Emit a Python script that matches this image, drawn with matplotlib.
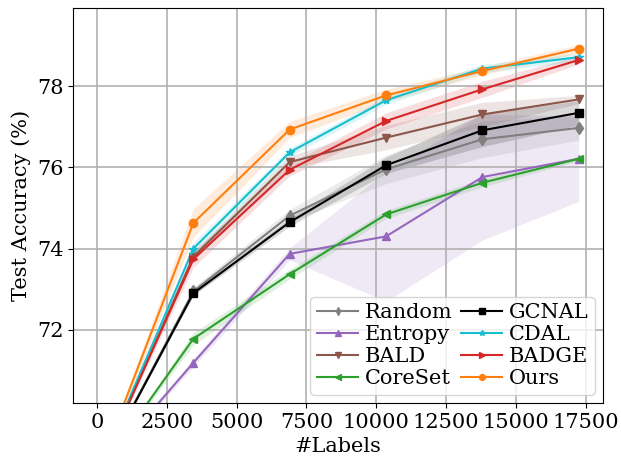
import matplotlib
matplotlib.use("Agg")
import matplotlib.pyplot as plt
import numpy as np

plt.rcParams['font.family'] = 'DejaVu Serif'
plt.rcParams['font.size'] = 15

labels_x = [0, 3450, 6900, 10350, 13800, 17250]

methods = ["Random", "Entropy", "BALD", "CoreSet", "GCNAL", "CDAL", "BADGE", "Ours"]
colors = ["tab:gray", "tab:purple", "tab:brown", "tab:green", "black", "tab:cyan", "tab:red", "tab:orange"]
markers = ["d", "^", "v", "<", "s", "*", ">", "o"]

random_acc = [68.45, 72.95, 74.81, 75.95, 76.69, 76.97]
entropy_acc = [68.45, 71.19, 73.87, 74.30, 75.76, 76.21]
bald_acc = [68.45, 73.80, 76.13, 76.73, 77.30, 77.67]
coreset_acc = [68.45, 71.78, 73.37, 74.84, 75.62, 76.21]
gcnal_acc = [68.45, 72.90, 74.65, 76.05, 76.91, 77.34]
cdal_acc = [68.45, 74.00, 76.37, 77.65, 78.43, 78.71]
badge_acc = [68.45, 73.74, 75.94, 77.14, 77.92, 78.64]
ours_acc = [68.45, 74.63, 76.93, 77.77, 78.37, 78.92]

random_std = [0, 0.10, 0.15, 0.35, 0.45, 0.30]
entropy_std = [0, 0.10, 0.15, 1.60, 1.55, 1.05]
bald_std = [0, 0.10, 0.15, 0.30, 0.30, 0.10]
coreset_std = [0, 0.15, 0.12, 0.10, 0.10, 0.05]
gcnal_std = [0, 0.05, 0.10, 0.20, 0.40, 0.30]
cdal_std = [0, 0.15, 0.10, 0.10, 0.10, 0.10]
badge_std = [0, 0.20, 0.15, 0.20, 0.20, 0.10]
ours_std = [0, 0.35, 0.20, 0.15, 0.10, 0.10]

accs = [random_acc, entropy_acc, bald_acc, coreset_acc, gcnal_acc, cdal_acc, badge_acc, ours_acc]
stds = [random_std, entropy_std, bald_std, coreset_std, gcnal_std, cdal_std, badge_std, ours_std]

fig, ax = plt.subplots(figsize=(6.21, 4.63), dpi=100)
fig.subplots_adjust(left=0.1176, right=0.971, top=0.9827, bottom=0.1296)

x = np.array(labels_x)
for name, c, m, acc, sd in zip(methods, colors, markers, accs, stds):
    acc = np.array(acc)
    sd = np.array(sd)
    ax.fill_between(x, acc - sd, acc + sd, color=c, alpha=0.15, linewidth=0)
    ax.plot(x, acc, color=c, marker=m, markersize=6, linewidth=1.5, label=name)

ax.set_xlim(-859, 18119)
ax.set_ylim(70.2, 79.92)
ax.set_xticks(np.arange(0, 17501, 2500))
ax.set_yticks([72, 74, 76, 78])
ax.grid(True, color='#b0b0b0', linewidth=1.2)
ax.set_xlabel('#Labels')
ax.set_ylabel('Test Accuracy (%)')
ax.legend(loc='lower right', ncol=2, fontsize=15, handlelength=2.0, markerscale=0.7,
          columnspacing=0.4, handletextpad=0.3, labelspacing=0.15, borderpad=0.3,
          borderaxespad=0.4)

plt.savefig('out.png')
